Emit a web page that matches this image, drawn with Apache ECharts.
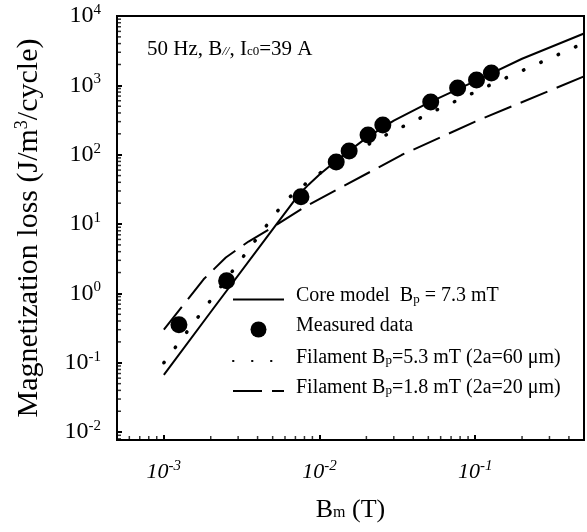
<!DOCTYPE html>
<html>
<head>
<meta charset="utf-8">
<script src="https://cdn.jsdelivr.net/npm/echarts@6/dist/echarts.min.js"></script>
<style>
  html, body { margin: 0; padding: 0; background: #fff; }
  #chart { width: 587px; height: 532px; }
</style>
</head>
<body>
<div id="chart"></div>
<script>
// axis ranges (log axes)
var xRange = [0.0005, 0.5];
var yRange = [0.0077, 10000];

// minor tick mantissas and decades
var mantissas = [2, 3, 4, 5, 6, 7, 8, 9];
var xDecades = [0.0001, 0.001, 0.01, 0.1];
var yDecades = [0.001, 0.01, 0.1, 1, 10, 100, 1000];

// measured data (big dots)
var measB = [0.00125, 0.00253, 0.0076, 0.0128, 0.0155, 0.0205, 0.0255, 0.0518, 0.0771, 0.102, 0.127];
var measLoss = [0.353, 1.52, 24.7, 78.8, 113, 193, 268, 577, 918, 1197, 1510];

// core model, Bp = 7.3 mT (solid)
var coreB = [0.001, 0.002, 0.005, 0.0073, 0.0085, 0.01, 0.0128, 0.02, 0.03, 0.05, 0.1, 0.2, 0.5];
var coreLoss = [0.067, 0.54, 8.4, 26, 37, 52, 82, 175, 310, 560, 1150, 2420, 5600];

// filament model, Bp = 5.3 mT (dotted)
var fil60B = [0.001, 0.002, 0.004, 0.0053, 0.0065, 0.008, 0.01, 0.023, 0.0532, 0.125, 0.5];
var fil60Loss = [0.1, 0.8, 6.4, 14.9, 25, 37, 54, 163, 414, 1014, 4080];

// filament model, Bp = 1.8 mT (dashed)
var fil20B = [0.001, 0.0018, 0.0025, 0.0035, 0.005, 0.008, 0.0336, 0.1, 0.5];
var fil20Loss = [0.3, 1.6, 3.3, 5.6, 9.0, 17.5, 99, 300, 1350];

var seriesNames = [
  'Core model  Bp = 7.3 mT',
  'Measured data',
  'Filament Bp=5.3 mT (2a=60 μm)',
  'Filament Bp=1.8 mT (2a=20 μm)'
];
var legendRich = {
  'Core model  Bp = 7.3 mT': '{t|Core model  B}{s|p}{t| = 7.3 mT}',
  'Measured data': '{t|Measured data}',
  'Filament Bp=5.3 mT (2a=60 μm)': '{t|Filament B}{s|p}{t|=5.3 mT (2a=60 μm)}',
  'Filament Bp=1.8 mT (2a=20 μm)': '{t|Filament B}{s|p}{t|=1.8 mT (2a=20 μm)}'
};

function pairs(xs, ys) {
  return xs.map(function (x, i) { return [x, ys[i]]; });
}

function minorValues(decades, range) {
  var out = [];
  decades.forEach(function (d) {
    mantissas.forEach(function (m) {
      var v = m * d;
      if (v > range[0] && v < range[1]) out.push(v);
    });
  });
  return out;
}

function powLabel(v) {
  var e = Math.round(Math.log10(v));
  if (Math.abs(v - Math.pow(10, e)) / v > 1e-6) return '';
  return '{b|10}{e|' + e + '}';
}

var serif = 'Liberation Serif';

// minor ticks sit on the axes, placed through the scales
var xMinor = minorValues(xDecades, xRange).map(function (v) { return [v, yRange[0]]; });
var yMinor = minorValues(yDecades, yRange).map(function (v) { return [xRange[0], v]; });

var option = {
  animation: false,
  backgroundColor: '#fff',
  textStyle: { fontFamily: serif, color: '#000' },
  grid: {
    left: 117, top: 16, width: 469, height: 424,
    show: true, borderColor: '#000', borderWidth: 2
  },
  legend: {
    left: 227, top: 281,
    orient: 'vertical',
    itemWidth: 51, itemHeight: 16, itemGap: 10,
    data: [
      { name: seriesNames[0], itemStyle: { opacity: 0 } },
      { name: seriesNames[1] },
      { name: seriesNames[2], itemStyle: { opacity: 0 } },
      { name: seriesNames[3], itemStyle: { opacity: 0 } }
    ],
    formatter: function (name) { return legendRich[name]; },
    textStyle: {
      fontFamily: serif, color: '#000', padding: [0, 0, 0, 7],
      rich: {
        t: { fontFamily: serif, fontSize: 20, color: '#000', padding: [0, 0, 7, 0] },
        s: { fontFamily: serif, fontSize: 13, color: '#000' }
      }
    }
  },
  graphic: [{
    type: 'text', left: 147, top: 39,
    style: {
      text: '{t|50 Hz, B}{i|//}{t|, I}{s|c0}{t|=39 A}',
      rich: {
        t: { fontFamily: serif, fontSize: 21, fill: '#000', padding: [0, 0, 5, 0] },
        s: { fontFamily: serif, fontSize: 13, fill: '#000' },
        i: { fontFamily: serif, fontSize: 13, fontStyle: 'italic', fill: '#000' }
      }
    }
  }],
  xAxis: {
    type: 'log', min: xRange[0], max: xRange[1], splitNumber: 3,
    name: '{t|B}{s|m}{t| (T)}',
    nameLocation: 'middle', nameGap: 57,
    nameTextStyle: {
      rich: {
        t: { fontFamily: serif, fontSize: 26, color: '#000', padding: [0, 0, 6, 0] },
        s: { fontFamily: serif, fontSize: 16, color: '#000' }
      }
    },
    axisLine: { lineStyle: { color: '#000', width: 2 } },
    axisTick: { show: true, inside: true, length: 5, lineStyle: { color: '#000', width: 2 } },
    splitLine: { show: false },
    axisLabel: {
      margin: 19,
      formatter: powLabel,
      rich: {
        b: { fontFamily: serif, fontSize: 22, fontStyle: 'italic', color: '#000' },
        e: { fontFamily: serif, fontSize: 15, fontStyle: 'italic', color: '#000', padding: [0, 0, 11, 0] }
      }
    }
  },
  yAxis: {
    type: 'log', min: yRange[0], max: yRange[1], splitNumber: 6,
    name: '{t|Magnetization loss (J/m}{s|3}{t|/cycle)}',
    nameLocation: 'middle', nameGap: 72, nameRotate: 90,
    nameTextStyle: {
      rich: {
        t: { fontFamily: serif, fontSize: 30, color: '#000' },
        s: { fontFamily: serif, fontSize: 18, color: '#000', padding: [0, 0, 14, 0] }
      }
    },
    axisLine: { lineStyle: { color: '#000', width: 2 } },
    axisTick: { show: true, inside: true, length: 5, lineStyle: { color: '#000', width: 2 } },
    splitLine: { show: false },
    axisLabel: {
      margin: 16,
      formatter: powLabel,
      rich: {
        b: { fontFamily: serif, fontSize: 24, color: '#000' },
        e: { fontFamily: serif, fontSize: 15, color: '#000', padding: [0, 0, 12, 0] }
      }
    }
  },
  series: [
    {
      name: seriesNames[0], type: 'line', symbol: 'none',
      data: pairs(coreB, coreLoss),
      lineStyle: { color: '#000', width: 2 },
      itemStyle: { color: '#000' }, z: 3
    },
    {
      name: seriesNames[1], type: 'scatter', symbol: 'circle', symbolSize: 17,
      data: pairs(measB, measLoss),
      itemStyle: { color: '#000', opacity: 1 }, z: 4
    },
    {
      name: seriesNames[2], type: 'line', symbol: 'none',
      data: pairs(fil60B, fil60Loss),
      lineStyle: { color: '#000', width: 3.5, type: [0.5, 18.5], cap: 'round' },
      itemStyle: { color: '#000' }, z: 2
    },
    {
      name: seriesNames[3], type: 'line', symbol: 'none',
      data: pairs(fil20B, fil20Loss),
      lineStyle: { color: '#000', width: 2, type: [29, 10] },
      itemStyle: { color: '#000' }, z: 2
    },
    {
      type: 'scatter', symbol: 'rect', symbolSize: [1.5, 4], symbolOffset: [0, -2],
      data: xMinor, itemStyle: { color: '#000' }, z: 5
    },
    {
      type: 'scatter', symbol: 'rect', symbolSize: [4, 1.5], symbolOffset: [2, 0],
      data: yMinor, itemStyle: { color: '#000' }, z: 5
    }
  ]
};

var chart = echarts.init(document.getElementById('chart'));
chart.setOption(option);
</script>
</body>
</html>
